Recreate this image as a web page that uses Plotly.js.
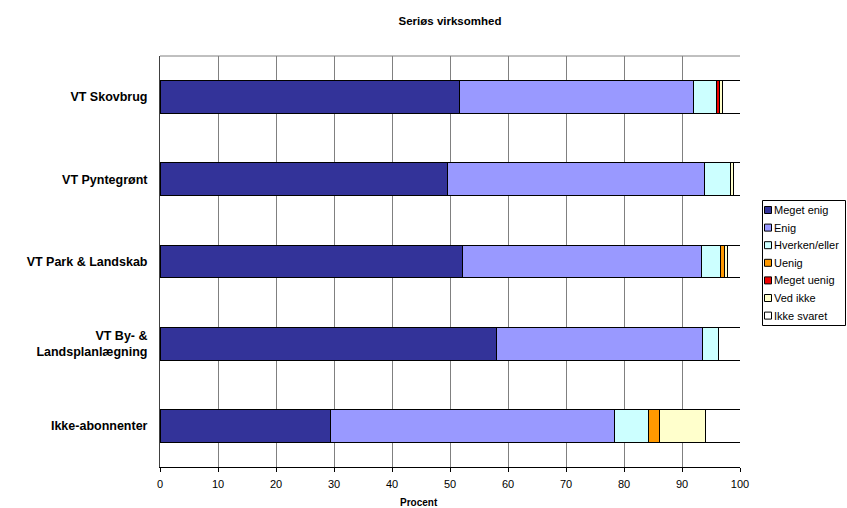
<!DOCTYPE html>
<html>
<head>
<meta charset="utf-8">
<script src="https://cdn.plot.ly/plotly-3.0.1.min.js"></script>
<style>html,body{margin:0;padding:0;background:#fff;}</style>
</head>
<body>
<div id="chart" style="width:847px;height:508px;"></div>
<script>
const categories = ["VT Skovbrug", "VT Pyntegrønt", "VT Park & Landskab", "VT By- &<br>Landsplanlægning", "Ikke-abonnenter"];
const seriesNames = ["Meget enig", "Enig", "Hverken/eller", "Uenig", "Meget uenig", "Ved ikke", "Ikke svaret"];
const megetEnig  = [51.7, 49.5, 52.1, 58.1, 29.4];
const enig       = [40.2, 44.3, 41.3, 35.4, 49.0];
const hverken    = [4.0, 4.5, 3.2, 2.8, 5.8];
const uenig      = [0.0, 0.0, 0.8, 0.0, 2.0];
const megetUenig = [0.6, 0.0, 0.0, 0.0, 0.0];
const vedIkke    = [0.5, 0.5, 0.4, 0.0, 7.9];
const ikkeSvaret = [3.0, 1.2, 2.2, 3.7, 5.9];
const xTicks = [0, 10, 20, 30, 40, 50, 60, 70, 80, 90, 100];

const colors = ["#333399", "#9999FF", "#CCFFFF", "#FF9900", "#EE0000", "#FFFFCC", "#FFFFFF"];
const values = [megetEnig, enig, hverken, uenig, megetUenig, vedIkke, ikkeSvaret];
const FONT = "Liberation Sans, Arial, sans-serif";

const traces = values.map((v, i) => ({
  type: "bar",
  orientation: "h",
  name: seriesNames[i],
  x: v,
  y: categories.map(c => "<b>" + c.replace("<br>", "</b><br><b>") + "</b>"),
  marker: { color: colors[i], line: { color: "#000000", width: 1 } },
  showlegend: false
}));

// custom legend (pixel layout converted to paper coords)
const L = 160, R = 740, T = 56, B = 467;
const px = p => (p - L) / (R - L);
const py = p => (B - p) / (B - T);
const shapes = [
  { type: "line", xref: "paper", yref: "paper", x0: 0, x1: 1, y0: 1, y1: 1, line: { color: "#808080", width: 1 } },
  { type: "rect", xref: "paper", yref: "paper", x0: px(762.5), x1: px(845.5), y0: py(200.5), y1: py(325.5),
    line: { color: "#000000", width: 1 }, fillcolor: "#ffffff", layer: "above" }
];
const annotations = [];
seriesNames.forEach((n, i) => {
  const cy = 210 + i * 17.6;
  shapes.push({ type: "rect", xref: "paper", yref: "paper", x0: px(764.5), x1: px(771.5), y0: py(cy - 3.5), y1: py(cy + 3.5),
    line: { color: "#000000", width: 1 }, fillcolor: colors[i], layer: "above" });
  annotations.push({ xref: "paper", yref: "paper", x: px(772), y: py(cy), xanchor: "left", yanchor: "middle",
    text: n, showarrow: false, font: { family: FONT, size: 11, color: "#000" } });
});
annotations.push({ xref: "paper", yref: "paper", x: px(419), y: py(503), xanchor: "center", yanchor: "middle",
  text: "<b>Procent</b>", showarrow: false, font: { family: FONT, size: 10, color: "#000" } });

const layout = {
  width: 847,
  height: 508,
  barmode: "stack",
  bargap: 0.6,
  paper_bgcolor: "#ffffff",
  plot_bgcolor: "#ffffff",
  margin: { l: 160, r: 107, t: 56, b: 41, autoexpand: false },
  showlegend: false,
  title: {
    text: "<b>Seriøs virksomhed</b>",
    font: { family: FONT, size: 11.5, color: "#000" },
    x: 450 / 847, xanchor: "center", y: 1 - 21 / 508, yanchor: "middle"
  },
  xaxis: {
    range: [0, 100],
    tickvals: xTicks,
    ticktext: xTicks.map(String),
    showgrid: true,
    gridcolor: "#808080",
    gridwidth: 1,
    zeroline: false,
    showline: true,
    linecolor: "#000000",
    linewidth: 1,
    ticks: "outside",
    ticklen: 4,
    tickcolor: "#000000",
    ticklabelstandoff: 3,
    tickfont: { family: FONT, size: 11, color: "#000" },
    automargin: false,
    fixedrange: true
  },
  yaxis: {
    autorange: "reversed",
    showline: true,
    linecolor: "#404040",
    linewidth: 1,
    ticks: "",
    showgrid: false,
    zeroline: false,
    tickfont: { family: FONT, size: 12.5, color: "#000" },
    ticklabelstandoff: 9,
    automargin: false,
    fixedrange: true
  },
  shapes: shapes,
  annotations: annotations
};

Plotly.newPlot("chart", traces, layout, { displayModeBar: false, staticPlot: true });
</script>
</body>
</html>
